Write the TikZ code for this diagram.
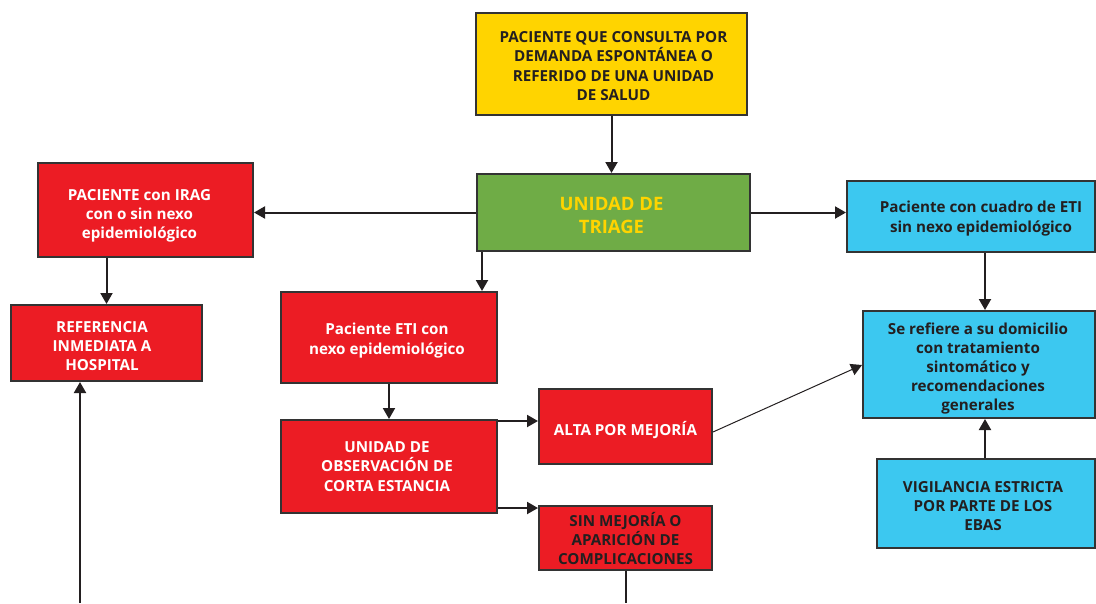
\documentclass[tikz,border=0pt]{standalone}
\usepackage{fontspec}
\setmainfont{Open Sans}
\usetikzlibrary{arrows.meta,calc}
\definecolor{cyel}{HTML}{FFD400}
\definecolor{cgrn}{HTML}{6FAC46}
\definecolor{cred}{HTML}{EC1C24}
\definecolor{ccyn}{HTML}{3CC8F0}
\definecolor{cdark}{HTML}{231F20}
\definecolor{cbord}{HTML}{333333}
\begin{document}
\begin{tikzpicture}[x=1pt,y=-1pt,
  box/.style={draw=cbord,line width=2pt,rectangle,inner sep=0pt},
  ybox/.style={box,fill=cyel},
  gbox/.style={box,fill=cgrn},
  rbox/.style={box,fill=cred},
  cbox/.style={box,fill=ccyn},
  txt/.style={align=center,inner sep=0pt,font=\bfseries\fontsize{15.2}{19.2}\selectfont},
  dtxt/.style={txt,text=cdark},
  wtxt/.style={txt,text=white},
  gtxt/.style={txt,text=cyel,font=\bfseries\fontsize{18.5}{23}\selectfont},
  arr/.style={draw=cdark,line width=2pt,-{Triangle[length=11pt,width=12pt]}},
  ln/.style={draw=cdark,line width=2pt}]
\useasboundingbox (0,0) rectangle (1096,603);
% boxes
\node[ybox,minimum width=271pt,minimum height=102pt] (pac) at (611.5,64) {};
\node[gbox,minimum width=273pt,minimum height=77pt] (tri) at (613.5,212.5) {};
\node[rbox,minimum width=215pt,minimum height=94pt] (irag) at (145.5,210) {};
\node[rbox,minimum width=191pt,minimum height=76pt] (ref) at (106.5,343) {};
\node[rbox,minimum width=216pt,minimum height=91pt] (eti) at (389,337.5) {};
\node[rbox,minimum width=216pt,minimum height=93pt] (uo) at (389,466.5) {};
\node[rbox,minimum width=173pt,minimum height=75pt] (alta) at (625.5,426.5) {};
\node[rbox,minimum width=173pt,minimum height=64pt] (sin) at (625.5,538) {};
\node[cbox,minimum width=248pt,minimum height=71pt] (cua) at (971,216.5) {};
\node[cbox,minimum width=232pt,minimum height=107pt] (dom) at (979,364.5) {};
\node[cbox,minimum width=218pt,minimum height=89pt] (vig) at (986,503.5) {};
% texts
\node[dtxt] (pac-t) at ($(pac.center)+(2,2)$) {PACIENTE QUE CONSULTA POR\\DEMANDA ESPONTÁNEA O\\REFERIDO DE UNA UNIDAD\\DE SALUD};
\node[gtxt] (tri-t) at ($(tri.center)+(-2,3)$) {UNIDAD DE\\TRIAGE};
\node[wtxt] (irag-t) at ($(irag.center)+(-6,6)$) {PACIENTE con IRAG\\con o sin nexo\\epidemiológico};
\node[wtxt] (ref-t) at ($(ref.center)+(-4.5,3)$) {REFERENCIA\\INMEDIATA A\\HOSPITAL};
\node[wtxt] (eti-t) at ($(eti.center)+(-2,3)$) {Paciente ETI con\\nexo epidemiológico};
\node[wtxt] (uo-t) at ($(uo.center)+(-2,0)$) {UNIDAD DE\\OBSERVACIÓN DE\\CORTA ESTANCIA};
\node[wtxt] (alta-t) at ($(alta.center)+(0,3.5)$) {ALTA POR MEJORÍA};
\node[dtxt] (sin-t) at ($(sin.center)+(0,0.5)$) {SIN MEJORÍA O\\APARICIÓN DE\\COMPLICACIONES};
\node[dtxt] (cua-t) at ($(cua.center)+(10,2)$) {Paciente con cuadro de ETI\\sin nexo epidemiológico};
\node[dtxt] (dom-t) at ($(dom.center)+(-1,4)$) {Se refiere a su domicilio\\con tratamiento\\sintomático y\\recomendaciones\\generales};
\node[dtxt] (vig-t) at ($(vig.center)+(-3,2.5)$) {VIGILANCIA ESTRICTA\\POR PARTE DE LOS\\EBAS};
\coordinate (bl) at (80,603);
\coordinate (bs) at (625.5,603);
\coordinate (ua) at ($(uo.north east)+(0,2)$);
\coordinate (us) at ($(uo.south east)+(0,-6)$);
% connectors
\draw[arr] (pac.south) -- (tri.north -| pac.south);
\draw[arr] (tri.west) -- (irag.east |- tri.west);
\draw[arr] (tri.east) -- (cua.west |- tri.east);
\draw[arr] ([xshift=-131.5pt]tri.south) -- ([xshift=93pt]eti.north);
\draw[arr] (irag.south -| ref.north) -- (ref.north);
\draw[arr] (bl) -- (ref.south -| bl);
\draw[arr] (eti.south) -- (uo.north);
\draw[arr] (ua) -- (alta.west |- ua);
\draw[arr] (us) -- (sin.west |- us);
\draw[ln] (sin.south) -- (bs);
\draw[arr,line width=1pt] ($(alta.east)+(0,5.5)$) -- ($(dom.west)+(0,0.5)$);
\draw[arr] ($(cua.south)+(14,0)$) -- ($(dom.north)+(6,0)$);
\draw[arr] ($(vig.north)+(-1,0)$) -- ($(dom.south)+(6,0)$);
\end{tikzpicture}
\end{document}
